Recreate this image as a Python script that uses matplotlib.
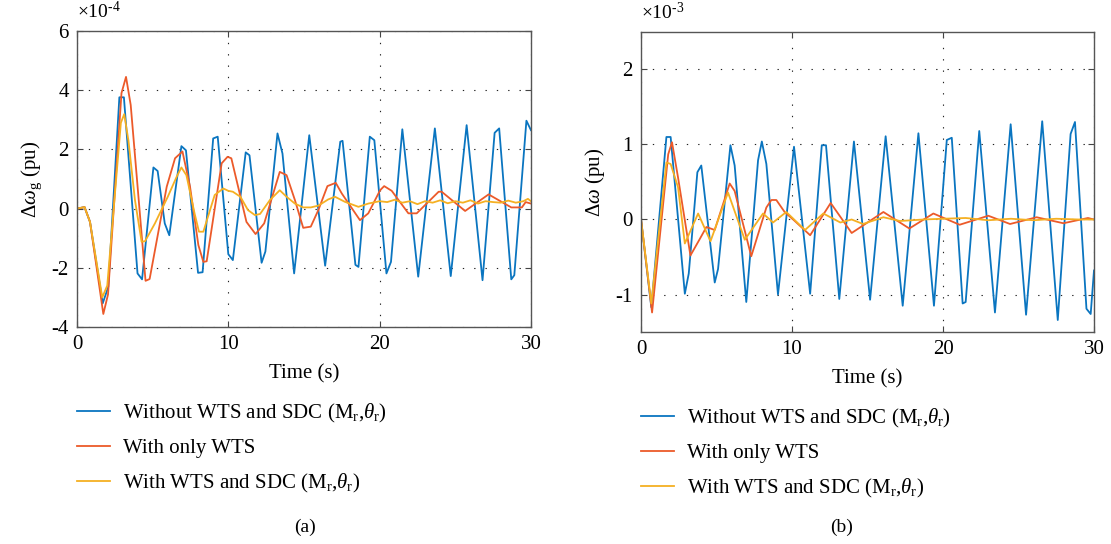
import matplotlib
matplotlib.use("Agg")
import matplotlib.pyplot as plt

# ---- data (time in s, values in the axis multiplier units) ----
# (a) generator speed deviation, x1e-4 pu
A_BLUE_T = [0, 0.5, 0.86, 1.7, 2.07, 2.8, 3.1, 4.0, 4.3, 5.05, 5.33, 5.8, 6.1, 6.9, 7.2,
            8.0, 8.3, 9.0, 9.3, 10.0, 10.3, 11.15, 11.4, 12.2, 12.45, 13.25, 13.58, 14.35,
            15.35, 16.4, 17.4, 17.55, 18.4, 18.6, 19.35, 19.65, 20.45, 20.75, 21.5, 22.55,
            23.65, 24.7, 25.75, 26.8, 27.6, 27.9, 28.7, 28.9, 29.7, 30.0]
A_BLUE_Y = [0, 0.05, -0.45, -3.2, -2.64, 3.76, 3.76, -2.19, -2.39, 1.39, 1.27, -0.5, -0.9, 2.11, 1.97,
            -2.17, -2.15, 2.37, 2.43, -1.54, -1.74, 1.9, 1.8, -1.83, -1.45, 2.54, 1.86, -2.19,
            2.48, -1.93, 2.26, 2.29, -1.9, -1.97, 2.43, 2.31, -2.19, -1.8, 2.68, -2.3,
            2.71, -2.28, 2.82, -2.42, 2.56, 2.71, -2.39, -2.25, 2.97, 2.65]

A_RED_T = [0, 0.5, 0.86, 1.74, 2.05, 2.94, 3.24, 3.55, 4.53, 4.8, 5.93, 6.48, 6.97, 7.47, 8.02,
           8.35, 8.57, 9.56, 9.95, 10.2, 11.2, 11.8, 12.37, 13.4, 13.85, 14.4, 14.95, 15.45,
           15.95, 16.55, 17.1, 17.5, 18.7, 19.25, 20.03, 20.3, 20.8, 21.9, 22.45, 23.9, 24.1,
           25.65, 27.2, 28.7, 29.4, 29.65, 30.0]
A_RED_Y = [0, 0.05, -0.45, -3.56, -2.9, 3.9, 4.45, 3.5, -2.44, -2.38, 0.74, 1.7, 1.93, 0.74, -1.23,
           -1.8, -1.78, 1.53, 1.75, 1.7, -0.45, -0.86, -0.5, 1.24, 1.13, 0.29, -0.65, -0.61,
           -0.05, 0.76, 0.87, 0.51, -0.39, -0.16, 0.62, 0.76, 0.6, -0.16, -0.16, 0.57, 0.57,
           -0.08, 0.48, 0.04, 0.04, 0.22, 0.17]

A_YEL_T = [0, 0.5, 0.86, 1.67, 2.0, 2.9, 3.12, 3.4, 3.83, 4.27, 4.5, 5.15, 6.0, 6.58, 6.9, 7.23,
           7.77, 8.06, 8.35, 9.1, 9.67, 10.0, 10.3, 10.8, 11.3, 11.76, 12.1, 12.75, 13.4, 13.85,
           14.4, 14.95, 15.45, 15.95, 16.6, 17.05, 17.7, 18.6, 19.25, 20.0, 20.5, 21.0, 21.5,
           22.0, 22.5, 23.0, 23.5, 24.0, 24.5, 25.0, 25.5, 26.0, 26.5, 27.0, 27.5, 28.0, 28.5,
           29.0, 29.5, 29.8, 30.0]
A_YEL_Y = [0, 0.05, -0.45, -3.0, -2.6, 2.9, 3.19, 2.3, 0.29, -1.12, -1.1, -0.5, 0.4, 1.07, 1.39, 1.13,
           -0.16, -0.78, -0.78, 0.46, 0.68, 0.6, 0.57, 0.4, -0.05, -0.22, -0.18, 0.29, 0.62, 0.4,
           0.17, 0.04, 0.04, 0.1, 0.31, 0.4, 0.23, 0.06, 0.17, 0.25, 0.22, 0.3, 0.2,
           0.25, 0.15, 0.25, 0.2, 0.28, 0.18, 0.25, 0.2, 0.28, 0.17, 0.25, 0.22, 0.2, 0.27,
           0.2, 0.25, 0.33, 0.25]

# (b) speed deviation, x1e-3 pu
B_BLUE_T = [0, 0.68, 1.68, 1.96, 2.9, 3.16, 3.73, 3.99, 4.88, 5.1, 5.92, 6.2, 6.97, 7.75, 8.0,
            8.3, 9.07, 10.13, 11.2, 11.97, 12.25, 13.13, 14.1, 15.17, 16.2, 17.33, 18.37,
            19.4, 20.25, 20.58, 21.3, 21.5, 22.4, 23.44, 24.48, 25.5, 26.57, 27.6, 28.45,
            28.74, 29.5, 29.78, 30.0]
B_BLUE_Y = [0, -1.17, 1.1, 1.1, -0.99, -0.72, 0.63, 0.72, -0.84, -0.66, 0.99, 0.72, -1.1, 0.79, 1.04,
            0.74, -1.0, 0.97, -0.99, 0.99, 0.99, -1.06, 1.04, -1.07, 1.11, -1.15, 1.15,
            -1.15, 1.06, 1.09, -1.12, -1.1, 1.18, -1.24, 1.27, -1.27, 1.31, -1.34, 1.14,
            1.3, -1.19, -1.26, -0.68]

B_RED_T = [0, 0.73, 1.8, 2.05, 2.45, 3.27, 3.89, 4.33, 4.88, 5.87, 6.2, 7.3, 8.3, 8.63, 8.96,
           9.51, 10.13, 11.2, 12.56, 13.95, 16.05, 17.77, 19.36, 21.1, 23.0, 24.44, 26.2,
           27.97, 29.6, 30.0]
B_RED_Y = [0, -1.24, 0.87, 1.03, 0.56, -0.48, -0.26, -0.1, -0.14, 0.48, 0.38, -0.49, 0.16, 0.26, 0.26,
           0.1, -0.01, -0.21, 0.22, -0.18, 0.1, -0.12, 0.08, -0.07, 0.05, -0.06, 0.03,
           -0.05, 0.02, 0.0]

B_YEL_T = [0, 0.68, 1.68, 1.96, 2.45, 2.9, 3.78, 4.6, 5.76, 6.87, 8.08, 8.74, 9.62, 10.86, 12.07,
           13.2, 13.95, 14.7, 16.05, 17.15, 18.7, 20.0, 21.5, 23.0, 24.5, 26.0, 27.5, 29.0, 30.0]
B_YEL_Y = [0, -1.12, 0.76, 0.74, 0.43, -0.32, 0.08, -0.29, 0.36, -0.27, 0.08, -0.04, 0.1, -0.14, 0.08,
           -0.04, 0.0, -0.06, 0.03, -0.02, 0.0, 0.01, 0.02, -0.01, 0.01, -0.01, 0.01, 0.0, 0.0]

LABELS = [r"Without WTS and SDC (M$_\mathrm{r}$,$\theta_\mathrm{r}$)",
          "With only WTS",
          r"With WTS and SDC (M$_\mathrm{r}$,$\theta_\mathrm{r}$)"]
COLORS = ["#0A75C0", "#EC5A2A", "#F5B022"]

X_TICKS = [0, 10, 20, 30]
A_YTICKS = [-4, -2, 0, 2, 4, 6]
B_YTICKS = [-1, 0, 1, 2]

plt.rcParams.update({
    "font.family": "Liberation Serif",
    "mathtext.fontset": "custom",
    "mathtext.rm": "Liberation Serif",
    "mathtext.it": "Liberation Serif:italic",
    "axes.unicode_minus": False,
})


def style(ax, ylim, yticks, exponent):
    ax.set_xlim(0, 30)
    ax.set_ylim(*ylim)
    ax.set_xticks(X_TICKS)
    ax.set_yticks(yticks)
    ax.tick_params(direction="in", top=True, right=True, length=4, width=0.8,
                   labelsize=15, pad=6, color="#444")
    ax.grid(True, color="#222", linestyle=(0, (1.2, 9)), linewidth=0.8)
    for sp in ax.spines.values():
        sp.set_color("#555")
        sp.set_linewidth(1.0)
    ax.text(0, 1.03, r"×10$^{\text{-%s}}$" % exponent, transform=ax.transAxes,
            ha="left", va="bottom", fontsize=14)
    ax.set_xlabel("Time (s)", fontsize=15, labelpad=7)


fig = plt.figure(figsize=(11.11, 5.44), dpi=100)
ax_a = fig.add_axes([0.0693, 0.3989, 0.4086, 0.5441])
ax_b = fig.add_axes([0.5770, 0.3897, 0.4077, 0.5515])

lines_a = []
for t, y, c in zip([A_BLUE_T, A_RED_T, A_YEL_T], [A_BLUE_Y, A_RED_Y, A_YEL_Y], COLORS):
    lines_a += ax_a.plot(t, y, color=c, lw=1.3)
lines_b = []
for t, y, c in zip([B_BLUE_T, B_RED_T, B_YEL_T], [B_BLUE_Y, B_RED_Y, B_YEL_Y], COLORS):
    lines_b += ax_b.plot(t, y, color=c, lw=1.3)

style(ax_a, (-4, 6), A_YTICKS, "4")
style(ax_b, (-1.5, 2.5), B_YTICKS, "3")
ax_a.set_ylabel(r"$\Delta\omega_\mathrm{g}$ (pu)", fontsize=15)
ax_b.set_ylabel(r"$\Delta\omega$ (pu)", fontsize=15)
ax_a.yaxis.set_label_coords(-0.072, 0.5)
ax_b.yaxis.set_label_coords(-0.076, 0.5)

for lines, x0, y0 in [(lines_a, 0.0693, 0.262), (lines_b, 0.577, 0.252)]:
    fig.legend(lines, LABELS, loc="upper left", bbox_to_anchor=(x0, y0), frameon=False,
               fontsize=15, handlelength=1.6, handletextpad=0.62, labelspacing=0.66,
               borderpad=0, borderaxespad=0)

fig.text(305 / 1111, 1 - 527 / 544, "(a)", ha="center", va="center", fontsize=14)
fig.text(842 / 1111, 1 - 527 / 544, "(b)", ha="center", va="center", fontsize=14)

fig.savefig("out.png", dpi=100)
